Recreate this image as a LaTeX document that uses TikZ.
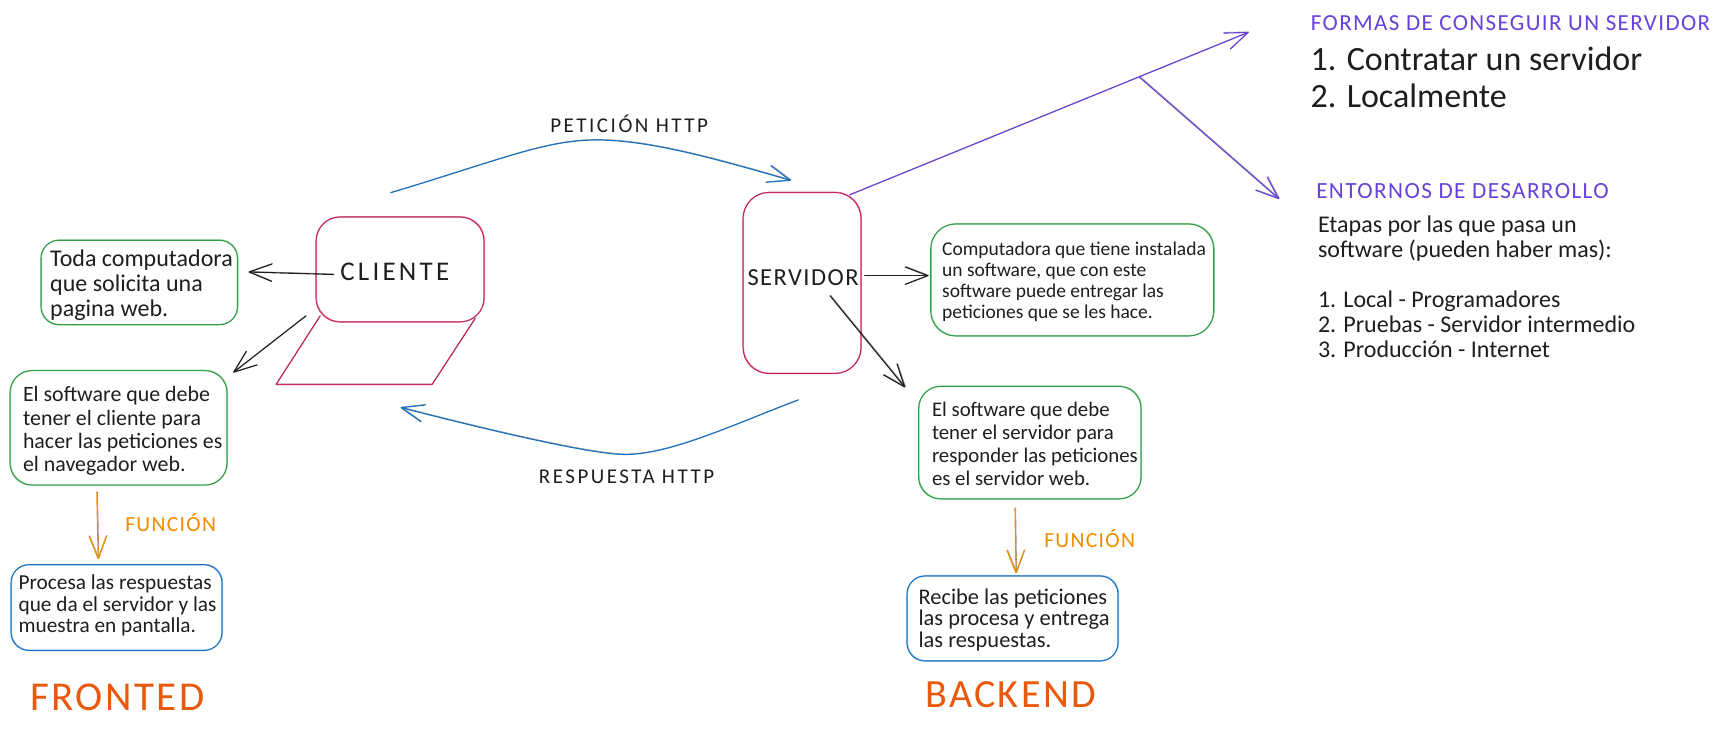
\documentclass[tikz,border=0pt]{standalone}
\usepackage{fontspec}
\setmainfont{Carlito}
\newfontfamily\capsf[LetterSpace=6]{Carlito}
\newfontfamily\capsw[LetterSpace=12]{Carlito}
\usetikzlibrary{arrows.meta,calc}
\newdimen\pxu \pxu=.75pt
\definecolor{inkc}{HTML}{1E1E1E}
\definecolor{redc}{HTML}{C2255C}
\definecolor{greenc}{HTML}{2F9E44}
\definecolor{bluec}{HTML}{1971C2}
\definecolor{orangec}{HTML}{F08C00}
\definecolor{flamec}{HTML}{E8590C}
\definecolor{violetc}{HTML}{6741D9}
% text placed so that its first baseline sits dy above and dx right of the node centre
\newcommand{\tb}[3]{\rlap{\hspace*{#1\pxu}\raisebox{#2\pxu}[0pt][0pt]{\parbox[t]{500pt}{\raggedright #3}}}}
\newcommand{\fpx}[2]{\fontsize{\the\dimexpr#1\pxu\relax}{\the\dimexpr#2\pxu\relax}\selectfont}
\tikzset{
  sk/.style={line width=.85pt,line cap=round,line join=round,
    preaction={draw,opacity=.4,line width=.6pt,transform canvas={shift={(.5pt,.4pt)}}}},
  boxn/.style n args={3}{draw,sk,rectangle,rounded corners=#3\pxu,inner sep=0pt,text=inkc,
    minimum width=#1\pxu,minimum height=#2\pxu},
  conn/.style={sk,-{Straight Barb[length=17pt,width=13pt,round]}},
  title/.style={inner sep=0pt,anchor=base west},
}
\begin{document}
\begin{tikzpicture}[x=.75pt,y=-.75pt]
\useasboundingbox (0,0) rectangle (1721,731);
% main boxes
\node[boxn={168}{105}{24},draw=redc,font=\capsw\fpx{27}{27}] (cliente) at (400,269.5)
  {\tb{-59.7}{-11.2}{CLIENTE}};
\node[boxn={118}{181}{26},draw=redc,font=\capsf\fpx{24.5}{25}] (servidor) at (802,283)
  {\tb{-54.5}{-2.5}{SERVIDOR}};
\draw[sk,redc] (320,316) -- (276,384.5) -- (432,384.5) -- (475,318.6);
% green boxes
\node[boxn={196.5}{84.5}{18},draw=greenc,font=\fpx{24}{25}] (g1) at (139.2,282.5)
  {\tb{-89}{16}{Toda computadora\\que solicita una\\pagina web.}};
\node[boxn={217}{114.5}{22},draw=greenc,font=\fpx{21.9}{23.4}] (g2) at (118.5,427.9)
  {\tb{-95.5}{26.2}{El software que debe\\tener el cliente para\\hacer las peticiones es\\el navegador web.}};
\node[boxn={283}{112}{25},draw=greenc,font=\fpx{19.5}{20.8}] (g3) at (1072.2,280)
  {\tb{-130}{24}{Computadora que tiene instalada\\un software, que con este\\software puede entregar las\\peticiones que se les hace.}};
\node[boxn={222.4}{112.6}{22},draw=greenc,font=\fpx{20.8}{23}] (g4) at (1029.8,442.7)
  {\tb{-97.8}{26.3}{El software que debe\\tener el servidor para\\responder las peticiones\\es el servidor web.}};
% blue boxes
\node[boxn={211}{85.7}{18},draw=bluec,font=\fpx{21.3}{21.6}] (b1) at (116.5,607.6)
  {\tb{-97.9}{18.2}{Procesa las respuestas\\que da el servidor y las\\muestra en pantalla.}};
\node[boxn={211}{85}{18},draw=bluec,font=\fpx{22.4}{21.8}] (b2) at (1012.5,618.5)
  {\tb{-93.9}{14.5}{Recibe las peticiones\\las procesa y entrega\\las respuestas.}};
% labels
\node[title,text=inkc,font=\capsw\fpx{21}{21}] (pet) at (550,133) {PETICIÓN HTTP};
\node[title,text=inkc,font=\capsw\fpx{21}{21}] (res) at (538.6,483.8) {RESPUESTA HTTP};
\node[title,text=orangec,font=\capsf\fpx{21.6}{21.6}] (fun1) at (125,531) {FUNCIÓN};
\node[title,text=orangec,font=\capsf\fpx{21.6}{21.6}] (fun2) at (1044,547) {FUNCIÓN};
\node[title,text=flamec,font=\capsf\fpx{41}{41}] (front) at (30,710.5) {FRONTED};
\node[title,text=flamec,font=\capsf\fpx{40}{40}] (back) at (925,707) {BACKEND};
\node[title,text=violetc,font=\capsf\fpx{23}{23}] (formas) at (1310.7,31) {FORMAS DE CONSEGUIR UN SERVIDOR};
\node[title,text=violetc,font=\capsf\fpx{23.2}{23.2}] (entornos) at (1316,198.5) {ENTORNOS DE DESARROLLO};
\node[inner sep=0pt,text=inkc,font=\fpx{34}{36.2}] (lista) at (1310.7,71)
  {\tb{0}{0}{1. Contratar un servidor\\2. Localmente}};
\node[inner sep=0pt,text=inkc,font=\fpx{24}{25}] (etapas) at (1318,232.5)
  {\tb{0}{0}{Etapas por las que pasa un\\software (pueden haber mas):\\[25\pxu]1. Local - Programadores\\2. Pruebas - Servidor intermedio\\3. Producción - Internet}};
% connectors
\coordinate (trunk) at (1248.5,32.3);
\coordinate (branch) at (1139.6,77.3);
\coordinate (env) at (1279,199);
\draw[conn,inkc] ($(cliente.west)+(18,5)$) -- ($(g1.east)+(10.5,-10.5)$);
\draw[conn,inkc] ($(cliente.south west)+(-9.6,-6.6)$) -- ($(g2.north east)+(5.7,2.4)$);
\draw[conn,inkc] ($(servidor.east)+(3,-7.3)$) -- ($(g3.west)+(-1.7,-4.3)$);
\draw[conn,inkc] ($(servidor.center)+(28,12.7)$) -- ($(g4.north)+(-124.8,1.6)$);
\draw[conn,orangec] ($(g2.south)+(-21.7,6.5)$) -- ($(b1.north)+(-18.3,-5)$);
\draw[conn,orangec] ($(g4.south)+(-14.8,8.5)$) -- ($(b2.north)+(3.5,-2)$);
\draw[conn,bluec] ($(cliente.north)+(-9.3,-23.7)$) .. controls (500,160) and (545,140) .. (596.7,140)
  .. controls (650,140) and (720,160) .. ($(servidor.north)+(-11.3,-11.5)$);
\draw[conn,bluec] ($(servidor.south)+(-4,26)$) .. controls (730,426) and (670,454.5) .. (625,454.5)
  .. controls (590,454.5) and (480,428) .. ($(cliente.south)+(0.6,85)$);
\draw[conn,violetc] ($(servidor.north east)+(-12,3)$) -- (trunk);
\draw[conn,violetc] (branch) -- (env);
\end{tikzpicture}
\end{document}
